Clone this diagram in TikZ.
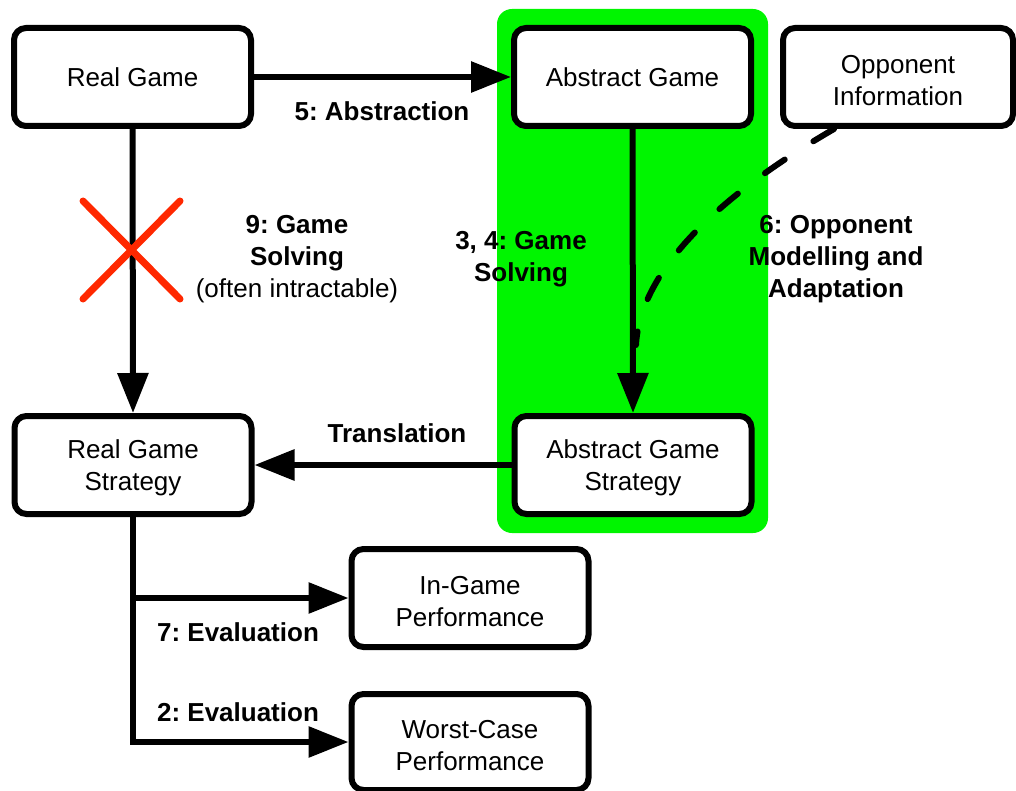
\documentclass[tikz,border=0pt]{standalone}
\usepackage{fontspec}
\setmainfont{Liberation Sans}
\usetikzlibrary{arrows.meta}
\definecolor{hlgreen}{RGB}{0,245,0}
\definecolor{xred}{RGB}{255,40,0}
\newcommand\dgfont{\fontsize{26}{32}\selectfont\frenchspacing}
\newcommand\tstrut{\rule{0pt}{25pt}}
\tikzset{
  box/.style={draw, line width=6pt, rounded corners=12pt, fill=white,
    minimum width=237pt, minimum height=98pt, align=center, font=\dgfont, inner sep=2pt},
  lbl/.style={align=center, font=\dgfont\bfseries, inner sep=0pt},
  conn/.style={line width=6pt, -{Triangle[length=40pt,width=30pt]}},
  dashconn/.style={line width=6pt, line cap=round, dash pattern=on 24pt off 34pt},
}
\begin{document}
\begin{tikzpicture}[x=1pt,y=-1pt]
\useasboundingbox (0,0) rectangle (1016,791);
\clip (0,0) rectangle (1016,791);
% highlight
\fill[hlgreen, rounded corners=15pt] (497,9) rectangle (768,533);
% boxes
\node[box] (rg) at (132.5,77) {Real Game};
\node[box] (ag) at (632.5,77) {Abstract Game};
\node[box, minimum width=230pt] (oi) at (898,77) {\tstrut Opponent\\Information};
\node[box] (rgs) at (133,465) {\tstrut Real Game\\Strategy};
\node[box] (ags) at (633,465) {\tstrut Abstract Game\\Strategy};
\node[box] (ig) at (470,598) {\tstrut In-Game\\Performance};
\node[box, minimum height=96pt] (wc) at (470,742) {\tstrut Worst-Case\\Performance};
% connectors
\draw[conn] (rg.east) -- (ag.west);
\draw[conn] (rg.south) -- (rgs.north);
\draw[conn] (ag.south) -- (ags.north);
\draw[conn] (ags.west) -- (rgs.east);
\draw[conn] (rgs.south) |- (wc.west);
\coordinate (branch) at (rgs.south |- ig.west);
\draw[conn] (branch) -- (ig.west);
\coordinate (dstart) at (834,129);
\coordinate (dend) at (636,345);
\draw[dashconn] (dstart) .. controls (720,195) and (640,270) .. (dend);
% red cross
\coordinate (xa) at (83,201);
\coordinate (xb) at (180,299);
\coordinate (xc) at (83,299);
\coordinate (xd) at (180,201);
\draw[xred, line width=7pt, line cap=round] (xa) -- (xb) (xc) -- (xd);
% labels
\node[lbl] (l5) at (382,111) {5: Abstraction};
\node[align=center, font=\dgfont, inner sep=0pt] (l9) at (297,259) {\textbf{9: Game}\\\textbf{Solving}\\(often intractable)};
\node[lbl] (l34) at (521,259) {3, 4: Game\\Solving};
\node[lbl] (l6) at (836,259) {6: Opponent\\Modelling and\\Adaptation};
\node[lbl] (ltr) at (397,433) {Translation};
\node[lbl] (l7) at (238,632) {7: Evaluation};
\node[lbl] (l2) at (238,712) {2: Evaluation};
\end{tikzpicture}
\end{document}
